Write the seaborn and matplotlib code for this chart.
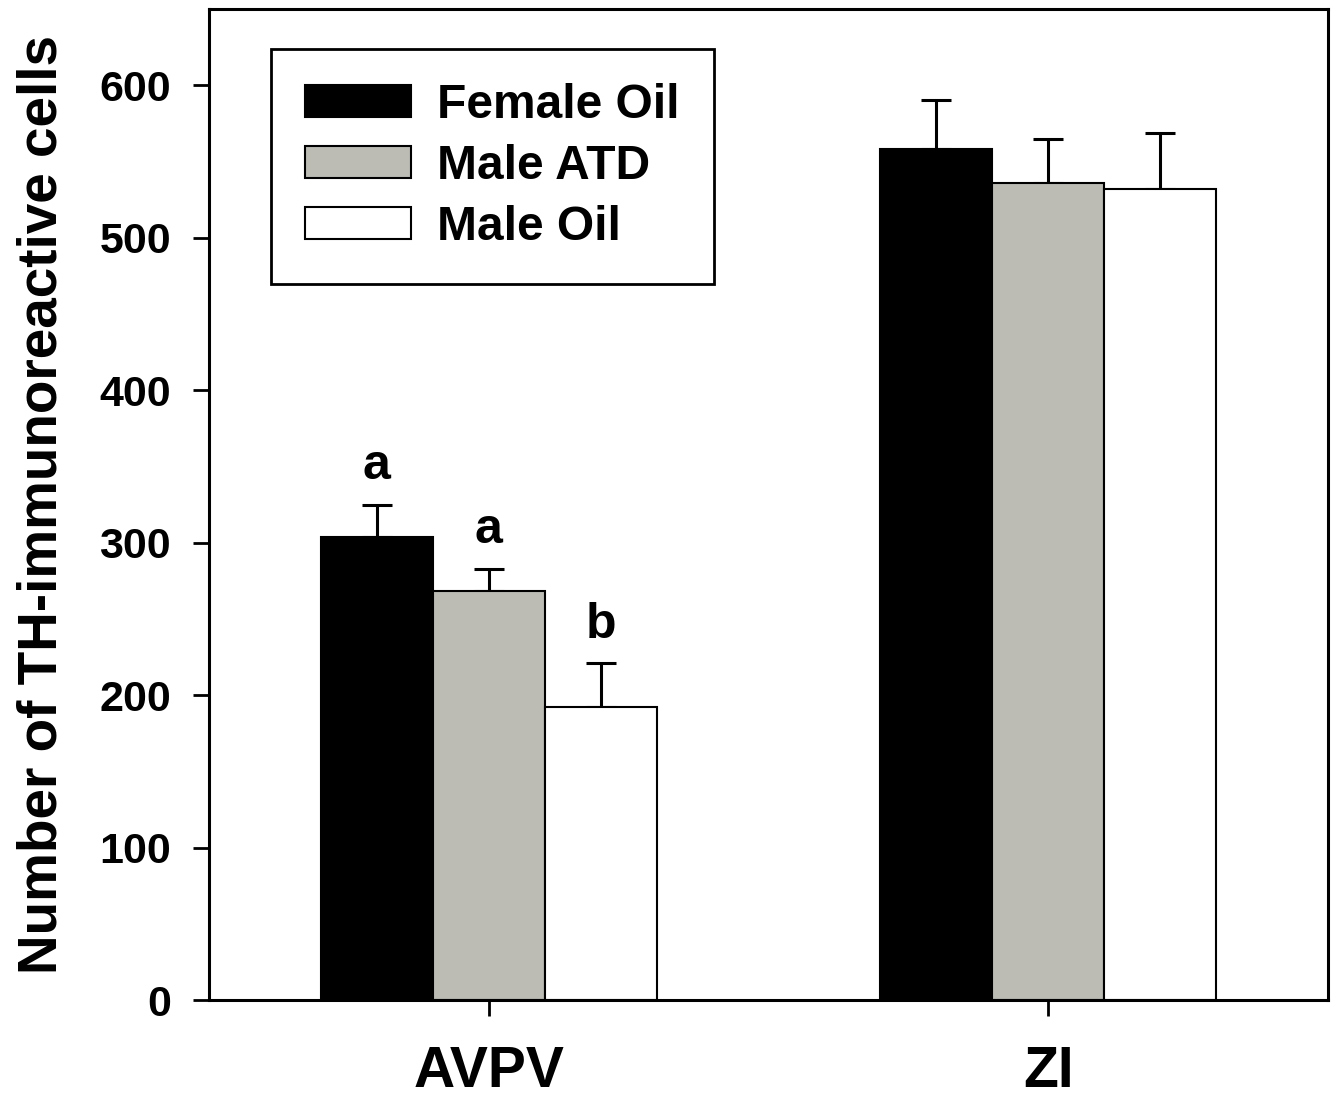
import pandas as pd
import seaborn as sns
import matplotlib.pyplot as plt
import numpy as np

# Data (mean and upper SEM)
regions = ['AVPV', 'ZI']
groups = ['Female Oil', 'Male ATD', 'Male Oil']
female_oil = [304, 558]
male_atd = [268, 536]
male_oil = [192, 532]
female_oil_err = [21, 32]
male_atd_err = [15, 29]
male_oil_err = [29, 37]
avpv_letters = ['a', 'a', 'b']

colors = {'Female Oil': '#000000', 'Male ATD': '#bdbdb4', 'Male Oil': '#ffffff'}

df = pd.DataFrame({
    'Region': regions * 3,
    'Group': [g for g in groups for _ in regions],
    'Count': female_oil + male_atd + male_oil,
    'Err': female_oil_err + male_atd_err + male_oil_err,
})

sns.set_style('ticks', {'axes.edgecolor': 'black', 'text.color': 'black',
                        'axes.labelcolor': 'black', 'xtick.color': 'black',
                        'ytick.color': 'black'})
plt.rcParams['font.family'] = ['Liberation Sans', 'DejaVu Sans']
plt.rcParams['font.weight'] = 'bold'

fig = plt.figure(figsize=(13.36, 11), dpi=100)
ax = fig.add_axes([0.1565, 0.0909, 0.8375, 0.9009])

sns.barplot(data=df, x='Region', y='Count', hue='Group', hue_order=groups,
            palette=colors, order=regions, width=0.6, gap=0, errorbar=None,
            edgecolor='black', linewidth=1.5, ax=ax)

# upper-only error bars, placed at the centre of each drawn bar
for container, g in zip(ax.containers, groups):
    sub = df[df['Group'] == g].set_index('Region').loc[regions]
    xs = [p.get_x() + p.get_width() / 2 for p in container.patches]
    ax.errorbar(xs, sub['Count'], yerr=[np.zeros(len(xs)), sub['Err']],
                fmt='none', ecolor='black', elinewidth=2.2, capsize=11,
                capthick=2.2, zorder=0.5)

# significance letters over AVPV bars
for container, g, letter in zip(ax.containers, groups, avpv_letters):
    p = container.patches[0]
    sub = df[(df['Group'] == g) & (df['Region'] == 'AVPV')].iloc[0]
    ax.text(p.get_x() + p.get_width() / 2, sub['Count'] + sub['Err'] + 10, letter,
            ha='center', va='bottom', fontsize=36, fontweight='bold')

ax.set_ylim(0, 650)
ax.set_xlim(-0.5, 1.5)
ax.set_yticks(np.arange(0, 700, 100))
ax.set_ylabel('Number of TH-immunoreactive cells', fontsize=39.5, fontweight='bold', labelpad=22)
ax.set_xlabel('')
ax.tick_params(axis='y', labelsize=31, width=2, length=11.5, direction='out', pad=16)
ax.tick_params(axis='x', labelsize=41, width=2, length=11.5, direction='out', pad=21)
for lbl in ax.get_xticklabels() + ax.get_yticklabels():
    lbl.set_fontweight('bold')
for s in ax.spines.values():
    s.set_linewidth(2.2)
    s.set_visible(True)

leg = ax.legend(loc='upper left', bbox_to_anchor=(0.055, 0.96), fontsize=34.5,
                frameon=True, fancybox=False, edgecolor='black', handlelength=2.2,
                handleheight=0.65, handletextpad=0.55, labelspacing=0.33,
                borderpad=0.72, borderaxespad=0, framealpha=1)
leg.get_frame().set_linewidth(2)
for t in leg.get_texts():
    t.set_fontweight('bold')

plt.savefig('out.png', dpi=100)
